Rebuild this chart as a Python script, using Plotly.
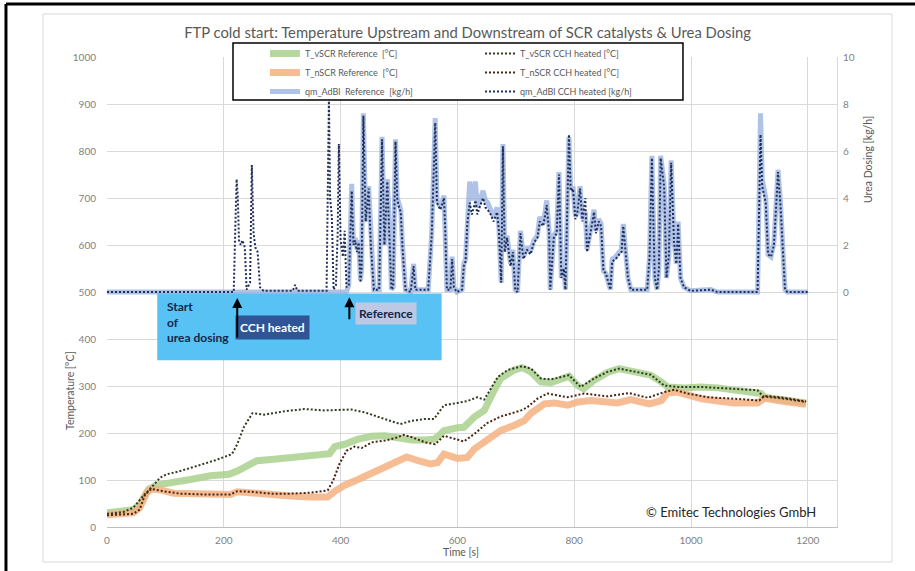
import plotly.graph_objects as go

# ---------------------------------------------------------------------------
# Measured series (time [s], value)
# ---------------------------------------------------------------------------
t_vscr_ref = [(0, 30), (30, 33), (45, 37), (56, 48), (71, 80), (85, 89), (114, 94), (143, 101),
              (177, 109), (209, 112), (223, 119), (240, 130), (257, 141), (286, 144), (315, 148),
              (344, 154), (381, 156), (390, 171), (407, 176), (430, 187), (453, 193), (476, 194),
              (499, 189), (522, 185), (545, 185), (560, 187), (568, 194), (577, 205), (600, 211),
              (611, 212), (629, 234), (646, 248), (663, 291), (674, 316), (697, 334), (711, 339),
              (726, 330), (743, 309), (760, 307), (777, 316), (791, 321), (806, 301), (816, 294),
              (834, 312), (857, 329), (877, 337), (903, 329), (931, 323), (949, 309), (960, 298),
              (989, 296), (1017, 298), (1046, 296), (1074, 292), (1109, 289), (1120, 284),
              (1126, 276), (1160, 269), (1197, 264)]

t_nscr_ref = [(0, 26), (45, 30), (56, 41), (68, 73), (76, 81), (91, 79), (114, 72), (143, 71),
              (171, 71), (211, 69), (223, 75), (240, 73), (275, 68), (315, 66), (349, 64), (378, 64),
              (390, 76), (407, 89), (430, 101), (459, 117), (487, 132), (505, 144), (513, 149),
              (533, 141), (554, 134), (566, 137), (577, 155), (600, 146), (617, 148), (629, 166),
              (651, 187), (674, 205), (697, 216), (714, 226), (726, 242), (737, 251), (749, 262),
              (766, 264), (789, 259), (806, 266), (829, 269), (857, 266), (874, 264), (897, 271),
              (914, 266), (929, 262), (949, 269), (960, 285), (977, 287), (994, 281), (1017, 273),
              (1046, 268), (1074, 264), (1114, 264), (1126, 274), (1160, 267), (1197, 261)]

t_vscr_cch = [(0, 28), (28, 32), (45, 41), (62, 66), (76, 84), (91, 105), (102, 112), (125, 119),
              (154, 130), (183, 141), (214, 155), (223, 176), (234, 212), (249, 242), (269, 239),
              (303, 246), (338, 251), (372, 248), (418, 250), (441, 244), (470, 232), (502, 219),
              (522, 226), (545, 230), (560, 230), (577, 259), (600, 264), (617, 268), (634, 276),
              (646, 271), (669, 319), (686, 334), (711, 342), (726, 337), (743, 316), (760, 314),
              (791, 323), (811, 298), (834, 316), (857, 330), (877, 337), (903, 330), (931, 324),
              (954, 301), (977, 298), (1017, 298), (1046, 296), (1074, 294), (1114, 291),
              (1123, 278), (1160, 273), (1197, 266)]

t_nscr_cch = [(0, 25), (45, 28), (56, 37), (65, 69), (76, 81), (97, 76), (125, 71), (171, 69),
              (211, 69), (223, 76), (246, 75), (280, 71), (315, 71), (349, 73), (378, 78), (387, 98),
              (398, 134), (410, 162), (424, 171), (436, 168), (453, 180), (476, 184), (493, 189),
              (508, 196), (522, 191), (545, 180), (562, 176), (577, 194), (600, 186), (611, 182),
              (629, 198), (651, 221), (674, 235), (709, 248), (720, 255), (737, 273), (754, 284),
              (789, 276), (817, 284), (857, 278), (894, 285), (926, 275), (954, 287), (971, 292),
              (994, 284), (1029, 276), (1074, 273), (1117, 269), (1126, 279), (1160, 275),
              (1197, 267)]

qm_ref = [(0, 0), (410, 0), (414, 0.3), (419, 4.6), (422, 2.0), (425, 2.3), (428, 1.8), (431, 2.2),
          (434, 0.5), (436, 1.0), (439, 7.6), (443, 3.0), (448, 4.5), (452, 2.0), (457, 0.1),
          (466, 0.1), (471, 6.6), (475, 2.0), (480, 4.8), (484, 2.5), (487, 0.1), (490, 0.2),
          (494, 6.5), (497, 4.0), (499, 3.8), (503, 3.5), (506, 2.0), (511, 0.1), (520, 0.0),
          (525, 1.2), (528, 0.1), (550, 0.1), (556, 2.5), (562, 7.4), (565, 3.9), (571, 3.6),
          (577, 4.1), (579, 2.9), (582, 0.1), (588, 0.1), (591, 1.5), (594, 0.2), (599, 0.0),
          (608, 0.1), (611, 1.2), (614, 1.4), (617, 3.2), (621, 4.7), (625, 3.9), (631, 4.7),
          (634, 3.6), (638, 3.9), (644, 4.3), (648, 3.9), (652, 3.8), (657, 3.5), (662, 3.2),
          (668, 3.6), (671, 2.8), (675, 0.4), (678, 6.3), (681, 1.8), (685, 2.4), (691, 1.2),
          (695, 1.8), (699, 0.1), (703, 0.0), (708, 2.6), (713, 1.5), (719, 1.9), (725, 1.7),
          (731, 2.2), (737, 2.4), (741, 3.2), (747, 2.9), (753, 3.9), (757, 2.6), (759, 0.1),
          (765, 2.4), (770, 2.6), (774, 5.1), (778, 0.6), (782, 1.1), (785, 0.1), (791, 6.6),
          (794, 4.4), (798, 4.5), (802, 3.2), (805, 3.4), (810, 4.5), (814, 3.1), (819, 3.4),
          (822, 1.8), (827, 2.5), (831, 3.1), (834, 3.5), (837, 2.6), (842, 3.1), (846, 2.9),
          (850, 0.9), (854, 0.8), (858, 0.4), (862, 0.1), (865, 1.4), (871, 1.5), (877, 1.7),
          (881, 1.8), (884, 2.9), (888, 1.7), (892, 0.6), (897, 0.1), (925, 0.1), (929, 1.5),
          (933, 5.8), (938, 0.6), (942, 0.1), (945, 1.0), (948, 5.8), (954, 4.6), (958, 0.6),
          (962, 1.5), (966, 5.6), (971, 2.2), (975, 1.2), (978, 3.0), (982, 0.6), (988, 0.2),
          (999, 0.05), (1034, 0.1), (1045, 0.0), (1114, 0.0), (1119, 7.6), (1122, 4.8),
          (1128, 4.0), (1132, 1.6), (1137, 1.5), (1142, 2.1), (1149, 5.2), (1153, 3.9),
          (1157, 1.9), (1161, 0.1), (1165, 0.0), (1200, 0.0)]

qm_cch = [(0, 0), (217, 0), (220, 3.0), (222, 4.8), (224, 4.0), (226, 2.2), (229, 2.0), (232, 2.2),
          (236, 1.9), (239, 0.1), (245, 0.4), (248, 5.4), (251, 2.5), (254, 1.9), (258, 1.7),
          (262, 0.2), (268, 0.05), (318, 0.05), (322, 0.3), (326, 0.05), (376, 0.05), (378, 3.5),
          (380, 8.3), (382, 4.0), (385, 3.2), (388, 0.1), (392, 0.3), (395, 2.5), (397, 6.3),
          (400, 2.2), (404, 1.5), (407, 2.6), (410, 0.2), (414, 0.3), (419, 4.3), (422, 2.0),
          (425, 2.2), (428, 1.7), (431, 2.1), (434, 0.4), (436, 1.0), (439, 7.5), (443, 3.0),
          (448, 4.4), (452, 1.9), (457, 0.1), (466, 0.1), (471, 6.5), (475, 2.0), (480, 4.7),
          (484, 2.4), (487, 0.1), (490, 0.2), (494, 6.4), (497, 4.0), (499, 3.7), (503, 3.4),
          (506, 1.9), (511, 0.1), (520, 0.0), (525, 1.1), (528, 0.1), (550, 0.1), (556, 2.4),
          (562, 7.2), (565, 3.8), (571, 3.5), (577, 4.0), (579, 2.8), (582, 0.1), (588, 0.1),
          (591, 1.4), (594, 0.2), (599, 0.0), (608, 0.1), (611, 1.1), (614, 1.3), (617, 2.9),
          (621, 3.8), (625, 3.3), (631, 3.9), (634, 3.3), (638, 3.6), (644, 4.0), (648, 3.6),
          (652, 3.5), (657, 3.3), (662, 3.0), (668, 3.4), (671, 2.6), (675, 0.4), (678, 6.2),
          (681, 1.7), (685, 2.3), (691, 1.1), (695, 1.7), (699, 0.1), (703, 0.0), (708, 2.5),
          (713, 1.4), (719, 1.8), (725, 1.6), (731, 2.1), (737, 2.3), (741, 3.0), (747, 2.8),
          (753, 3.7), (757, 2.5), (759, 0.1), (765, 2.3), (770, 2.5), (774, 5.0), (778, 0.6),
          (782, 1.0), (785, 0.1), (791, 6.7), (794, 4.3), (798, 4.4), (802, 3.1), (805, 3.3),
          (810, 4.4), (814, 3.0), (819, 4.0), (822, 1.7), (827, 2.4), (831, 3.0), (834, 3.4),
          (837, 2.5), (842, 3.0), (846, 2.8), (850, 0.9), (854, 0.8), (858, 0.4), (862, 0.1),
          (865, 1.3), (871, 1.4), (877, 1.6), (881, 1.7), (884, 2.8), (888, 1.6), (892, 0.6),
          (897, 0.1), (925, 0.1), (929, 1.5), (933, 5.7), (938, 0.6), (942, 0.1), (945, 1.0),
          (948, 5.7), (954, 4.5), (958, 0.6), (962, 1.5), (966, 5.5), (971, 2.1), (975, 1.2),
          (978, 2.9), (982, 0.6), (988, 0.2), (999, 0.05), (1034, 0.1), (1045, 0.0), (1114, 0.0),
          (1119, 6.7), (1122, 4.5), (1128, 3.8), (1132, 1.6), (1137, 1.5), (1142, 2.0),
          (1149, 5.1), (1153, 3.8), (1157, 1.8), (1161, 0.1), (1165, 0.0), (1200, 0.0)]

x_ticks = [0, 200, 400, 600, 800, 1000, 1200]
y_ticks = [0, 100, 200, 300, 400, 500, 600, 700, 800, 900, 1000]
y2_ticks = [0, 2, 4, 6, 8, 10]

FONT = "Lato, 'Open Sans', sans-serif"
GRID = "#D9D9D9"
TICK_C = "#7F7F7F"


def xy(points):
    return [p[0] for p in points], [p[1] for p in points]


fig = go.Figure()

# Reference runs: broad translucent lines
ref_series = [
    ("T_vSCR Reference  [°C]", t_vscr_ref, "rgba(169,209,142,0.85)", 7, "y"),
    ("T_nSCR Reference  [°C]", t_nscr_ref, "rgba(244,177,131,0.85)", 7, "y"),
    ("qm_AdBl  Reference  [kg/h]", qm_ref, "rgba(150,175,222,0.75)", 5, "y2"),
]
for name, pts, col, w, ax in ref_series:
    x, y = xy(pts)
    fig.add_trace(go.Scatter(x=x, y=y, name=name, mode="lines", yaxis=ax, legend="legend",
                             line=dict(color=col, width=w), hoverinfo="skip"))

# CCH heated runs: dark dotted lines
cch_series = [
    ("T_vSCR CCH heated [°C]", t_vscr_cch, "#2E3B1F", "y"),
    ("T_nSCR CCH heated [°C]", t_nscr_cch, "#4A2412", "y"),
    ("qm_AdBl CCH heated [kg/h]", qm_cch, "#1F2F5C", "y2"),
]
for name, pts, col, ax in cch_series:
    x, y = xy(pts)
    fig.add_trace(go.Scatter(x=x, y=y, name=name, mode="lines", yaxis=ax, legend="legend2",
                             line=dict(color=col, width=2, dash="2px,2px"), hoverinfo="skip"))

shapes = [
    # outer frame lines
    dict(type="line", xref="paper", yref="paper", x0=-0.1384, x1=-0.1384, y0=-0.2, y1=1.1128,
         line=dict(color="black", width=3)),
    dict(type="line", xref="paper", yref="paper", x0=-0.1384, x1=1.2, y0=1.1128, y1=1.1128,
         line=dict(color="black", width=3)),
    # chart area border
    dict(type="rect", xref="paper", yref="paper", x0=-0.0877, x1=1.0753, y0=-0.0745, y1=1.0915,
         line=dict(color="#D9D9D9", width=1), layer="below"),
    # legend frame
    dict(type="rect", xref="paper", yref="paper", x0=0.1726, x1=0.789, y0=0.9085, y1=1.0298,
         line=dict(color="black", width=1.5), fillcolor="white", layer="above"),
    # blue note panel
    dict(type="rect", xref="x", yref="y", x0=86, x1=573, y0=355, y1=497,
         line=dict(width=0), fillcolor="#58C2F4", layer="above"),
]

annotations = [
    dict(text="Start<br>of<br>urea dosing", xref="x", yref="y", x=99, y=437, xanchor="left",
         yanchor="middle", align="left", showarrow=False,
         font=dict(family=FONT, size=12, color="#14264A", weight="bold")),
    dict(text="CCH heated", xref="x", yref="y", x=284, y=425, showarrow=False,
         bgcolor="#2F5597", borderpad=4,
         font=dict(family=FONT, size=12, color="white", weight="bold")),
    dict(text="Reference", xref="x", yref="y", x=477, y=455, showarrow=False,
         bgcolor="#BCC8E4", borderpad=3,
         font=dict(family=FONT, size=12, color="#14264A", weight="bold")),
    # arrows marking the start of dosing
    dict(text="", xref="x", yref="y", axref="x", ayref="y", x=223, y=487, ax=223, ay=400,
         showarrow=True, arrowhead=2, arrowsize=1, arrowwidth=2, arrowcolor="black"),
    dict(text="", xref="x", yref="y", axref="x", ayref="y", x=415, y=489, ax=415, ay=439,
         showarrow=True, arrowhead=2, arrowsize=1, arrowwidth=2, arrowcolor="black"),
    dict(text="© Emitec Technologies GmbH", xref="x", yref="y", x=1217, y=31, xanchor="right",
         yanchor="middle", showarrow=False, font=dict(family=FONT, size=13, color="#262626")),
    # axis titles
    dict(text="Temperature [°C]", xref="paper", yref="paper", x=-0.051, y=0.291, textangle=-90,
         xanchor="center", yanchor="middle", showarrow=False,
         font=dict(family=FONT, size=10.5, color="#595959")),
    dict(text="Urea Dosing [kg/h]", xref="paper", yref="paper", x=1.0425, y=0.781, textangle=-90,
         xanchor="center", yanchor="middle", showarrow=False,
         font=dict(family=FONT, size=10.5, color="#595959")),
    dict(text="Time [s]", xref="paper", yref="paper", x=0.485, y=-0.053,
         xanchor="center", yanchor="middle", showarrow=False,
         font=dict(family=FONT, size=10.5, color="#595959")),
]

legend_common = dict(xanchor="left", yanchor="top", orientation="v", bgcolor="rgba(0,0,0,0)",
                     borderwidth=0, itemwidth=30, tracegroupgap=0,
                     font=dict(family=FONT, size=9, color="#595959"))

fig.update_layout(
    width=915, height=571,
    margin=dict(l=107, r=78, t=57, b=44),
    paper_bgcolor="white", plot_bgcolor="white",
    font=dict(family=FONT),
    title=dict(text="FTP cold start: Temperature Upstream and Downstream of SCR catalysts & Urea Dosing",
               xref="container", yref="container", x=0.511, y=0.942, xanchor="center",
               yanchor="middle", font=dict(family=FONT, size=14.8, color="#595959")),
    xaxis=dict(range=[0, 1250], tickvals=x_ticks, showgrid=True, gridcolor=GRID, gridwidth=1,
               zeroline=False, showline=True, linecolor="#BFBFBF", linewidth=1,
               ticks="outside", ticklen=4, tickcolor="rgba(0,0,0,0)",
               tickfont=dict(family=FONT, size=10, color=TICK_C)),
    yaxis=dict(range=[0, 1000], tickvals=y_ticks, showgrid=True, gridcolor=GRID, gridwidth=1,
               zeroline=False, showline=False, ticks="outside", ticklen=8,
               tickcolor="rgba(0,0,0,0)", tickfont=dict(family=FONT, size=10, color=TICK_C)),
    yaxis2=dict(range=[-10, 10], tickvals=y2_ticks, overlaying="y", side="right",
                showgrid=False, zeroline=False, showline=True, linecolor="#D9D9D9",
                ticks="outside", ticklen=3, tickcolor="rgba(0,0,0,0)",
                tickfont=dict(family=FONT, size=10, color=TICK_C)),
    legend=dict(x=0.2164, y=1.0383, **legend_common),
    legend2=dict(x=0.511, y=1.0383, **legend_common),
    shapes=shapes,
    annotations=annotations,
)

fig.write_html("out.html")
